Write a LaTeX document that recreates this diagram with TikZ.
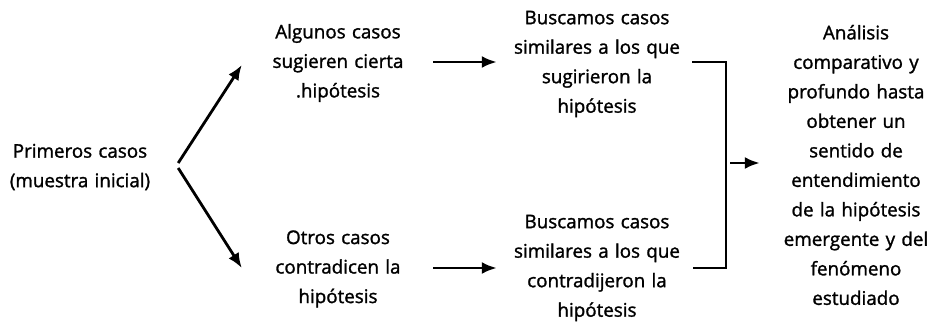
\documentclass[tikz,border=0pt]{standalone}
\usepackage{fontspec}
\setmainfont{Open Sans}[FakeBold=1.4]
\newfontfamily\diagfont{Open Sans}[FakeBold=1.4]
\usepackage{tikz}
\usetikzlibrary{arrows.meta,positioning}

\begin{document}
\begin{tikzpicture}[
    x=1pt, y=1pt,
    font=\diagfont\fontsize{18.8}{29.5}\selectfont,
    >={Latex[length=15pt,width=12pt]},
    stage/.style={align=center, inner sep=0pt, text width=#1},
    arrow/.style={->, line width=2.8pt},
    bar/.style={line width=2.8pt}
  ]
    \useasboundingbox (0,0) rectangle (936,322);

    \node[stage=160pt] (first) at (80,155) {Primeros casos\\(muestra inicial)};
    \node[stage=140pt] (suggest) at (338,259) {Algunos casos\\sugieren cierta\\.hipótesis};
    \node[stage=140pt] (contra) at (338,53) {Otros casos\\contradicen la\\hipótesis};
    \node[stage=170pt] (seeksug) at (597,258) {Buscamos casos\\similares a los que\\sugirieron la\\hipótesis};
    \node[stage=170pt] (seekcon) at (597,54) {Buscamos casos\\similares a los que\\contradijeron la\\hipótesis};
    \node[stage=160pt] (result) at (856,157) {Análisis\\comparativo y\\profundo hasta\\obtener un\\sentido de\\entendimiento\\de la hipótesis\\emergente y del\\fenómeno\\estudiado};

    \draw[arrow] ([xshift=18pt,yshift=4pt]first.east) -- ([xshift=-26pt,yshift=-2pt]suggest.west);
    \draw[arrow] ([xshift=18pt,yshift=-1pt]first.east) -- ([xshift=-26pt,yshift=1pt]contra.west);

    \draw[arrow] ([xshift=25pt,yshift=1pt]suggest.east) -- ([xshift=-15pt,yshift=2pt]seeksug.west);
    \draw[arrow] ([xshift=25pt,yshift=1pt]contra.east) -- ([xshift=-15pt]seekcon.west);

    % bracket joining both searches
    \coordinate (join) at (726,157);
    \draw[bar] ([xshift=10pt,yshift=2pt]seeksug.east) -- ([yshift=2pt]seeksug.east -| join)
      -- (seekcon.east -| join) -- ([xshift=11pt]seekcon.east);
    \draw[arrow] ([xshift=4pt,yshift=2pt]join) -- ([xshift=-16pt,yshift=2pt]result.west);
\end{tikzpicture}
\end{document}
